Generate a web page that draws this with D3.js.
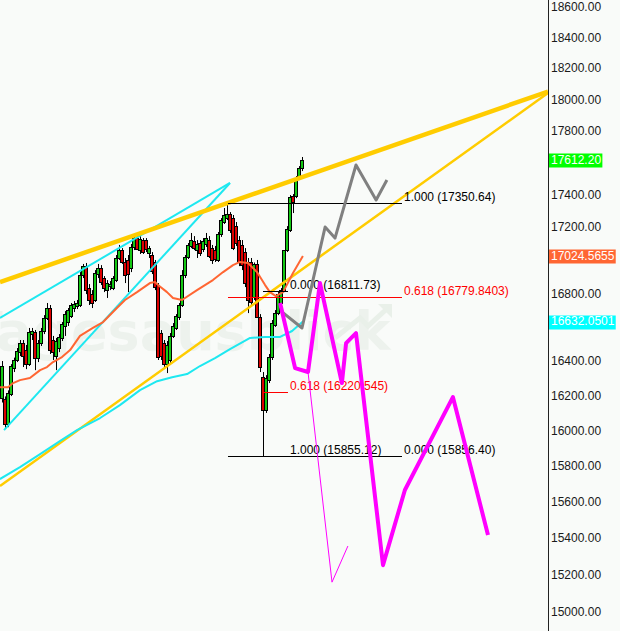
<!DOCTYPE html>
<html><head><meta charset="utf-8">
<script src="https://cdn.jsdelivr.net/npm/d3@7"></script>
<style>html,body{margin:0;padding:0;background:#f9fbf9;} svg{display:block;}</style>
</head><body>
<svg id="c" width="620" height="631"></svg>
<script>
// ---- candle data (index 0..100) ----
const candleOpen = [
16185,16180,16036,16208,16360,16406,16452,16505,16464,16382,
16558,16570,16417,16505,16576,16653,16712,16523,16429,16476,
16535,16606,16629,16665,16712,16724,16730,16909,16963,16831,
16795,16760,16915,16951,16891,16819,16843,16831,16879,17012,
17060,16988,17000,16951,17079,17133,17060,17121,17121,17042,
17030,16988,16849,16564,16505,16382,16406,16547,16594,16659,
16730,16909,17018,17085,17115,17060,17103,17066,17097,17121,
17072,17060,17000,17158,17231,17255,17280,17255,17206,17121,
17091,17048,16988,16988,16778,16976,16659,16306,16117,16289,
16423,16612,16682,16742,16819,17060,17182,17391,17391,17502,
17565];
const candleHigh = [
16400,16195,16230,16382,16420,16476,16523,16523,16494,16594,
16594,16582,16523,16594,16670,16742,16730,16547,16535,16558,
16629,16694,16712,16742,16754,16760,16927,16976,16982,16855,
16819,16939,16976,16969,16903,16879,16873,16903,17030,17091,
17072,17012,17030,17097,17145,17145,17145,17133,17133,17085,
17048,17000,16861,16582,16523,16517,16564,16623,16676,16742,
16939,17030,17103,17164,17145,17121,17121,17133,17164,17145,
17091,17085,17170,17255,17317,17350.64,17292,17274,17231,17145,
17121,17072,17012,17012,16985,17000,16676,16336,16318,16441,
16641,16700,16807,16831,17060,17206,17397,17403,17515,17577,
17634];
const candleLow = [
16160,16013,16019,16197,16336,16394,16429,16365,16353,16371,
16523,16347,16394,16488,16558,16641,16441,16406,16347,16452,
16517,16547,16606,16653,16688,16706,16718,16891,16795,16730,
16712,16748,16891,16849,16807,16772,16819,16819,16867,17000,
16976,16861,16807,16927,17060,17060,17036,17036,17048,17012,
16915,16819,16406,16406,16359,16330,16382,16535,16582,16641,
16718,16891,17006,17072,17060,17012,17024,17048,17079,17012,
16976,16988,16988,17140,17219,17243,17164,17060,17085,16963,
16939,16837,16682,16730,16760,16653,16336,15855.12,16100,16272,
16406,16600,16670,16724,16807,17048,17170,17286,17378,17490,
17546];
const candleClose = [
16370,16036,16212,16370,16406,16458,16505,16429,16382,16570,
16576,16417,16505,16576,16653,16712,16464,16452,16517,16541,
16617,16676,16700,16730,16736,16742,16909,16963,16819,16760,
16742,16921,16951,16867,16831,16861,16855,16891,17012,17060,
16988,16909,16915,17079,17133,17066,17127,17048,17066,17072,
16933,16837,16423,16429,16382,16494,16547,16606,16665,16730,
16909,17018,17091,17121,17072,17097,17042,17115,17133,17024,
17000,17006,17158,17243,17274,17280,17182,17072,17103,16988,
16969,16861,16760,16748,16976,16659,16365,16117,16301,16423,
16623,16682,16795,16819,17060,17188,17385,17354,17502,17565,
17612.2];

// ---- price axis ticks (17600, 17000, 16600 sit under the value markers) ----
const priceTicks = [15000,15200,15400,15600,15800,16000,16200,16400,16800,
                    17200,17400,17800,18000,18200,18400,18600];

// ---- moving averages [candle index, price] ----
const maOrange = [[-0.7,16248],[2,16248],[3.7,16272],[6,16289],[9.3,16301],[12.7,16347],[15,16365],
  [17,16394],[20,16423],[22.7,16464],[26,16547],[30.3,16594],[33.7,16629],[38.3,16712],[41,16760],
  [45,16807],[49.3,16861],[51,16867],[52,16849],[55,16807],[57,16772],[60,16760],[65,16819],
  [70.3,16879],[73.7,16927],[77,16969],[79.3,16988],[82,16982],[85,16927],[87.7,16849],
  [89.3,16807],[91.3,16783],[93.7,16807],[97,16921],[100.3,17024.5655]];
const maCyan = [[-0.7,15726],[6,15793],[12.7,15866],[19.3,15940],[25,16002],[32.7,16071],
  [39.3,16145],[46,16231],[51.7,16283],[56.7,16306],[61.7,16324],[66,16371],[71,16417],
  [76,16470],[82.7,16535],[87.7,16541],[92.7,16541],[96.7,16576],[100.3,16632.0501]];

// ---- trend lines ----
const yellowUpper = [[-0.67,16867],[182,18049]];
const yellowLower = [[-0.67,15687],[182,18040]];
const cyanUpper = [[-0.67,16653],[76,17472]];
const cyanLower = [[0.67,16002],[76,17472]];

// ---- fibonacci retracements ----
const fibARange = [75.33, 133.33];
const fibALevels = [17350.64, 16779.8403, 15856.40];
const fibALabels = ["1.000 (17350.64)", "0.618 (16779.8403)", "0.000 (15856.40)"];
const fibAColors = ["#000000", "#ff0000", "#000000"];
const fibBRange = [87, 95.33];
const fibBLevels = [16811.73, 16220.545, 15855.12];
const fibBLabels = ["0.000 (16811.73)", "0.618 (16220.545)", "1.000 (15855.12)"];
const fibBColors = ["#000000", "#ff0000", "#000000"];

// ---- projected paths ----
const projGray = [[93,16694],[100,16594],[107.7,17200],[111,17133],[118,17584],[124.7,17366],[128.3,17490]];
const projMagenta = [[92.7,16742],[97.7,16359],[102,16336],[106,16861],[113.3,16272],[114.7,16505],
  [118,16564],[127,15252],[134.3,15665],[150.3,16191],[162,15416]];
const projMagentaThin = [[102,16336],[110,15160],[115.3,15356]];

// ---- axis highlight labels ----
const markerValues = [17612.20, 17024.5655, 16632.0501];
const markerLabels = ["17612.20", "17024.5655", "16632.0501"];
const markerColors = ["#00ff00", "#ff6633", "#00ffff"];

// ================= drawing =================
const W = 620, H = 631, axisX = 548;
const svg = d3.select("#c");
const x = d3.scaleLinear().domain([0, 182]).range([2, 548]);
const y = d3.scaleLog().domain([15000, 18600]).range([612, 7]);
const font = "'Liberation Sans', Arial, sans-serif";

svg.append("rect").attr("width", W).attr("height", H).attr("fill", "#f9fbf9");
svg.append("defs").append("clipPath").attr("id", "plot")
  .append("rect").attr("x", 0).attr("y", 0).attr("width", axisX).attr("height", H);

const plot = svg.append("g").attr("clip-path", "url(#plot)");

// watermark
plot.append("text").attr("x", -34).attr("y", 350)
  .attr("font-family", "'DejaVu Sans', sans-serif").attr("font-weight", "bold")
  .attr("font-size", 54).attr("fill", "#edf2ed").text("Tagesausblick");
plot.append("path").attr("d", "M335,338 L360,318 L368,326 L390,306")
  .attr("fill", "none").attr("stroke", "#e9f0e9").attr("stroke-width", 5);
plot.append("path").attr("d", "M378,304 L392,304 L392,318 Z").attr("fill", "#e9f0e9");

// candles
const candles = d3.range(candleOpen.length).map(i => ({
  i, o: candleOpen[i], h: candleHigh[i], l: candleLow[i], c: candleClose[i]
}));
const cg = plot.append("g");
cg.selectAll("line").data(candles).join("line")
  .attr("x1", d => Math.round(x(d.i)) + 0.5).attr("x2", d => Math.round(x(d.i)) + 0.5)
  .attr("y1", d => y(d.h)).attr("y2", d => y(d.l))
  .attr("stroke", "#000").attr("stroke-width", 1);
cg.selectAll("rect").data(candles).join("rect")
  .attr("x", d => Math.round(x(d.i)) - 1.5).attr("width", 3)
  .attr("y", d => Math.round(y(Math.max(d.o, d.c))) + 0.5)
  .attr("height", d => Math.max(1, Math.round(y(Math.min(d.o, d.c))) - Math.round(y(Math.max(d.o, d.c)))))
  .attr("fill", d => d.c >= d.o ? "#14c814" : "#dc0000")
  .attr("stroke", "#000").attr("stroke-width", 1);

const line = d3.line().x(d => x(d[0])).y(d => y(d[1]));
function path(data, color, width) {
  plot.append("path").datum(data).attr("d", line).attr("fill", "none")
    .attr("stroke", color).attr("stroke-width", width).attr("stroke-linejoin", "round");
}
path(cyanUpper, "#1ee8f0", 2);
path(cyanLower, "#1ee8f0", 2);
path(yellowUpper, "#ffcc00", 4.5);
path(yellowLower, "#ffcc00", 2.5);
path(maCyan, "#1ee8f0", 2);
path(maOrange, "#ff6633", 2);

// fib
function fib(range, levels, labels, colors) {
  levels.forEach((lv, k) => {
    const yy = Math.round(y(lv)) + 0.5;
    plot.append("line").attr("x1", x(range[0])).attr("x2", x(range[1]))
      .attr("y1", yy).attr("y2", yy).attr("stroke", colors[k]).attr("stroke-width", 1);
    plot.append("text").attr("x", x(range[1]) + 2).attr("y", yy - 2.5)
      .attr("font-family", font).attr("font-size", 12).attr("fill", colors[k]).text(labels[k]);
  });
}
fib(fibARange, fibALevels, fibALabels, fibAColors);
fib(fibBRange, fibBLevels, fibBLabels, fibBColors);

path(projGray, "#808080", 3);
path(projMagentaThin, "#ff00ff", 1);
path(projMagenta, "#ff00ff", 4);

// axis
svg.append("line").attr("x1", axisX + 0.5).attr("x2", axisX + 0.5).attr("y1", 0).attr("y2", H)
  .attr("stroke", "#222").attr("stroke-width", 1);
const axis = d3.axisRight(y).tickValues(priceTicks).tickSize(0).tickPadding(3)
  .tickFormat(d => d.toFixed(2));
const ag = svg.append("g").attr("transform", `translate(${axisX},0)`).call(axis);
ag.select(".domain").remove();
ag.selectAll("text").attr("font-family", font).attr("font-size", 12).attr("fill", "#1a1a1a");

markerValues.forEach((v, k) => {
  const yy = y(v);
  const g = svg.append("g");
  const t = g.append("text").attr("x", axisX + 3).attr("y", yy).attr("dy", "0.32em")
    .attr("font-family", font).attr("font-size", 12).attr("fill", "#ffffff").text(markerLabels[k]);
  const bb = t.node().getBBox();
  g.insert("rect", "text").attr("x", axisX + 1).attr("y", Math.round(yy) - 6.5)
    .attr("width", bb.width + 3).attr("height", 14).attr("fill", markerColors[k]);
});
</script>
</body></html>
